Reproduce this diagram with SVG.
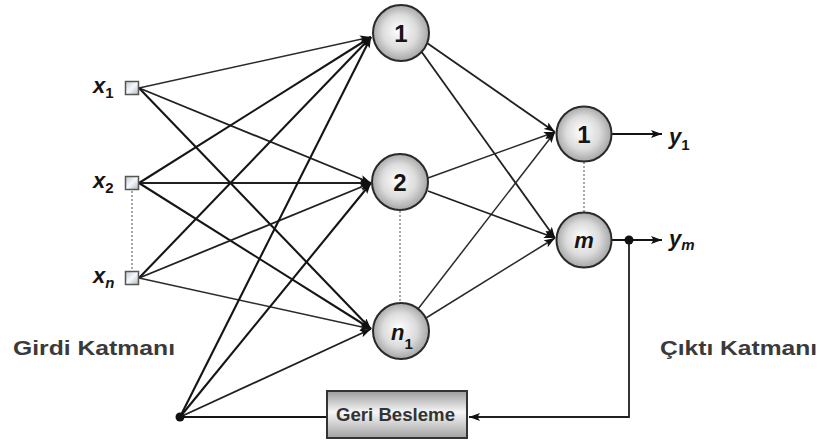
<svg xmlns="http://www.w3.org/2000/svg" width="822" height="441" viewBox="0 0 822 441">
  <style>
    .thick { stroke: #151515; stroke-width: 2.1; fill: none; }
    .thin { stroke: #2a2a2a; stroke-width: 1.5; fill: none; }
    .mid { stroke: #202020; stroke-width: 1.8; fill: none; }
    .dots { stroke: #8a8a8a; stroke-width: 1.5; stroke-dasharray: 2 2; fill: none; }
    .neuron { fill: url(#ball); stroke: #2a2a2a; stroke-width: 2; }
    .port { fill: url(#portFill); stroke: #555; stroke-width: 1.5; }
    .num { font-family: "Liberation Sans", Arial, sans-serif; font-weight: bold; font-size: 24px; fill: #151515; text-anchor: middle; }
    .var { font-family: "Liberation Sans", Arial, sans-serif; font-weight: bold; font-style: italic; font-size: 22px; fill: #151515; }
    .sub { font-size: 15px; font-style: normal; }
    .subi { font-size: 15px; font-style: italic; }
    .caption { font-family: "Liberation Sans", Arial, sans-serif; font-weight: bold; font-size: 20px; fill: #3a3a3a; }
    .boxtext { font-family: "Liberation Sans", Arial, sans-serif; font-weight: bold; font-size: 19px; fill: #333; }
  </style>
  <defs>
    <radialGradient id="ball" cx="50%" cy="50%" r="55%" fx="45%" fy="45%">
      <stop offset="0" stop-color="#ffffff"/>
      <stop offset="0.55" stop-color="#dcdcdc"/>
      <stop offset="1" stop-color="#9a9a9a"/>
    </radialGradient>
    <linearGradient id="portFill" x1="0" y1="0" x2="1" y2="1">
      <stop offset="0" stop-color="#c8c8c8"/>
      <stop offset="0.5" stop-color="#f4f8ff"/>
      <stop offset="1" stop-color="#b5b5b5"/>
    </linearGradient>
    <linearGradient id="boxFill" x1="0" y1="0" x2="0" y2="1">
      <stop offset="0" stop-color="#9c9c9c"/>
      <stop offset="0.45" stop-color="#f6f6f6"/>
      <stop offset="1" stop-color="#a2a2a2"/>
    </linearGradient>
    <marker id="arrow" markerUnits="userSpaceOnUse" markerWidth="11" markerHeight="8" refX="11" refY="4" orient="auto">
      <path d="M0,0 L11,4 L0,8 L2.5,4 z" fill="#111"/>
    </marker>
  </defs>

  <!-- weighted connections -->
  <g id="connectors">
    <!-- input layer to hidden layer -->
    <line class="thin" x1="139" y1="88" x2="371" y2="37" marker-end="url(#arrow)"/>
    <line class="mid" x1="139" y1="88" x2="371" y2="183" marker-end="url(#arrow)"/>
    <line class="thick" x1="139" y1="88" x2="371" y2="329" marker-end="url(#arrow)"/>
    <line class="thick" x1="139" y1="183" x2="371" y2="37" marker-end="url(#arrow)"/>
    <line class="mid" x1="139" y1="183" x2="371" y2="183" marker-end="url(#arrow)"/>
    <line class="thick" x1="139" y1="183" x2="371" y2="329" marker-end="url(#arrow)"/>
    <line class="thick" x1="139" y1="278" x2="371" y2="37" marker-end="url(#arrow)"/>
    <line class="mid" x1="139" y1="278" x2="371" y2="183" marker-end="url(#arrow)"/>
    <line class="thin" x1="139" y1="278" x2="371" y2="329" marker-end="url(#arrow)"/>
    <!-- bias node to hidden layer and feedback block -->
    <line class="thick" x1="180" y1="417" x2="371" y2="37" marker-end="url(#arrow)"/>
    <line class="thick" x1="180" y1="417" x2="371" y2="183" marker-end="url(#arrow)"/>
    <line class="mid" x1="180" y1="417" x2="371" y2="329" marker-end="url(#arrow)"/>
    <line class="thick" x1="180" y1="417" x2="327" y2="417"/>
    <!-- hidden layer to output layer -->
    <line class="mid" x1="427" y1="43" x2="555" y2="132" marker-end="url(#arrow)"/>
    <line class="mid" x1="421" y1="51" x2="555" y2="238" marker-end="url(#arrow)"/>
    <line class="thin" x1="428" y1="178" x2="555" y2="132" marker-end="url(#arrow)"/>
    <line class="mid" x1="428" y1="191" x2="555" y2="238" marker-end="url(#arrow)"/>
    <line class="thin" x1="418" y1="309" x2="555" y2="132" marker-end="url(#arrow)"/>
    <line class="thin" x1="426" y1="318" x2="555" y2="238" marker-end="url(#arrow)"/>
    <!-- outputs and feedback loop -->
    <line class="thick" x1="612" y1="134" x2="662" y2="134" marker-end="url(#arrow)"/>
    <line class="thick" x1="612" y1="240" x2="662" y2="240" marker-end="url(#arrow)"/>
    <polyline class="mid" points="629,240 629,417 469,417" marker-end="url(#arrow)"/>
    <!-- ellipsis markers between repeated units -->
    <line class="dots" x1="132" y1="191" x2="132" y2="271"/>
    <line class="dots" x1="400" y1="211" x2="400" y2="303"/>
    <line class="dots" x1="584" y1="162" x2="584" y2="213"/>
  </g>

  <!-- input layer -->
  <g id="input-x1">
    <rect class="port" x="125.5" y="81.5" width="13" height="13"/>
    <text class="var" x="93" y="93">x<tspan class="sub" dy="4.5">1</tspan></text>
  </g>
  <g id="input-x2">
    <rect class="port" x="125.5" y="176.5" width="13" height="13"/>
    <text class="var" x="93" y="188">x<tspan class="sub" dy="4.5">2</tspan></text>
  </g>
  <g id="input-xn">
    <rect class="port" x="125.5" y="271.5" width="13" height="13"/>
    <text class="var" x="93" y="283">x<tspan class="subi" dy="4.5">n</tspan></text>
  </g>

  <!-- hidden layer -->
  <g id="hidden-1">
    <circle class="neuron" cx="401" cy="33" r="28"/>
    <text class="num" x="401" y="42">1</text>
  </g>
  <g id="hidden-2">
    <circle class="neuron" cx="400" cy="182" r="28"/>
    <text class="num" x="400" y="191">2</text>
  </g>
  <g id="hidden-n1">
    <circle class="neuron" cx="401" cy="331" r="28"/>
    <text class="var" x="391" y="340" font-size="24px">n<tspan class="sub" dy="9">1</tspan></text>
  </g>

  <!-- output layer -->
  <g id="output-1">
    <circle class="neuron" cx="584" cy="134" r="27.5"/>
    <text class="num" x="584" y="143">1</text>
  </g>
  <g id="output-m">
    <circle class="neuron" cx="584" cy="240" r="27.5"/>
    <text class="var" x="584" y="248" font-size="24px" text-anchor="middle">m</text>
  </g>
  <g id="label-y1">
    <text class="var" x="669" y="144">y<tspan class="sub" dy="6">1</tspan></text>
  </g>
  <g id="label-ym">
    <text class="var" x="669" y="246">y<tspan class="subi" dy="4">m</tspan></text>
  </g>

  <!-- bias source and feedback junction -->
  <g id="bias-node">
    <circle cx="180" cy="417" r="4.5" fill="#111"/>
  </g>
  <g id="junction">
    <circle cx="629" cy="240" r="4.5" fill="#111"/>
  </g>

  <!-- feedback block -->
  <g id="feedback">
    <rect x="327" y="391" width="140" height="47" fill="url(#boxFill)" stroke="#333" stroke-width="2"/>
    <text class="boxtext" x="336" y="421" textLength="119" lengthAdjust="spacingAndGlyphs">Geri Besleme</text>
  </g>

  <!-- layer captions -->
  <g id="captions">
    <text class="caption" x="13" y="355" textLength="162" lengthAdjust="spacingAndGlyphs">Girdi Katmanı</text>
    <text class="caption" x="660" y="355" textLength="157" lengthAdjust="spacingAndGlyphs">Çıktı Katmanı</text>
  </g>
</svg>
